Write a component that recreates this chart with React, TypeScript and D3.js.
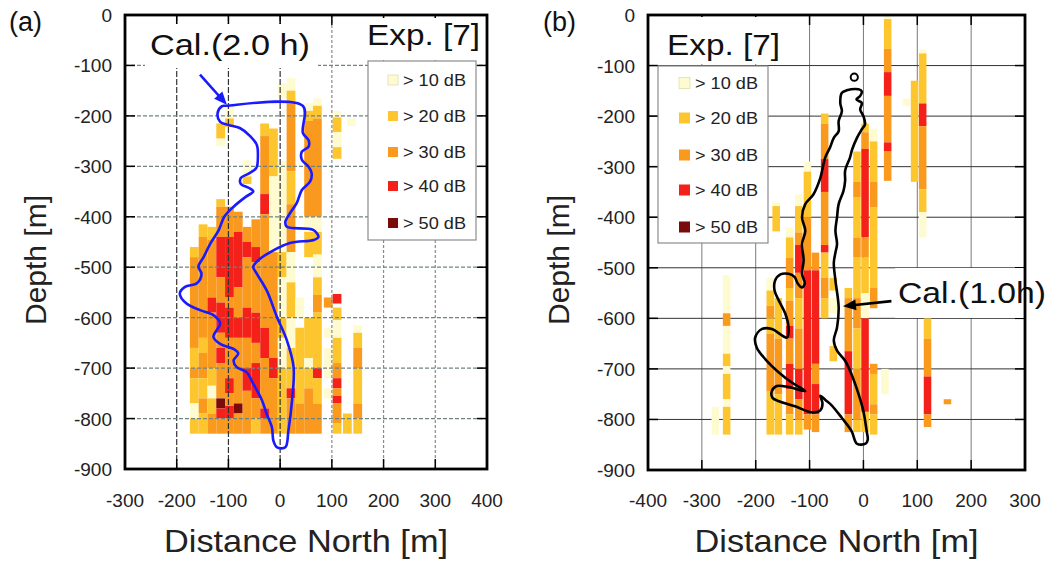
import React from 'react';
import * as d3 from 'd3';

// colour classes of the experiment map
const levelLabels = ['> 10 dB', '> 20 dB', '> 30 dB', '> 40 dB', '> 50 dB'];
const levelColors = ['#fffbd0', '#fdc62f', '#f99a1e', '#f3211a', '#7a0b0b'];

const depthTicks = d3.range(0, -901, -100);
const northTicksA = d3.range(-300, 401, 100);
const northTicksB = d3.range(-400, 301, 100);

// experiment columns: x = distance north [m], runs = [top depth, bottom depth, class 1..5]
const expA = [
  { x: -166, runs: [[-460, -480, 2], [-480, -660, 3], [-660, -700, 2], [-700, -720, 3], [-720, -770, 2], [-770, -800, 1], [-800, -830, 2]] },
  { x: -149, runs: [[-415, -440, 2], [-440, -640, 3], [-640, -670, 2], [-670, -720, 3], [-720, -760, 2], [-760, -790, 3], [-790, -830, 2]] },
  { x: -132, runs: [[-420, -445, 2], [-445, -560, 3], [-560, -590, 4], [-590, -700, 3], [-700, -735, 2], [-735, -760, 1], [-760, -790, 2], [-790, -830, 3]] },
  { x: -115, runs: [[-215, -245, 2], [-245, -260, 1], [-365, -380, 2], [-380, -440, 3], [-440, -520, 4], [-520, -570, 3], [-570, -630, 4], [-630, -660, 3], [-660, -690, 4], [-690, -760, 3], [-760, -780, 5], [-780, -800, 4], [-800, -830, 3]] },
  { x: -98, runs: [[-175, -205, 1], [-205, -222, 2], [-380, -440, 3], [-440, -560, 4], [-560, -580, 3], [-580, -640, 4], [-640, -720, 3], [-720, -750, 4], [-750, -775, 3], [-775, -800, 4], [-800, -830, 3]] },
  { x: -81, runs: [[-390, -430, 3], [-430, -540, 4], [-540, -600, 3], [-600, -640, 4], [-640, -770, 3], [-770, -790, 5], [-790, -830, 3]] },
  { x: -64, runs: [[-288, -320, 1], [-320, -335, 2], [-420, -450, 3], [-450, -480, 4], [-480, -580, 3], [-580, -640, 4], [-640, -700, 3], [-700, -745, 4], [-745, -830, 3]] },
  { x: -47, runs: [[-405, -460, 3], [-460, -490, 4], [-490, -590, 3], [-590, -650, 4], [-650, -690, 3], [-690, -760, 4], [-760, -800, 3], [-800, -830, 2]] },
  { x: -30, runs: [[-215, -240, 2], [-240, -355, 3], [-355, -395, 4], [-395, -620, 3], [-620, -680, 4], [-680, -780, 3], [-780, -800, 4], [-800, -830, 3]] },
  { x: -13, runs: [[-225, -320, 2], [-320, -470, 1], [-470, -680, 3], [-680, -720, 4], [-720, -830, 3]] },
  { x: 4, runs: [[-135, -165, 1], [-290, -470, 1], [-470, -520, 2], [-520, -600, 1], [-600, -640, 2], [-640, -700, 1], [-700, -830, 2]] },
  { x: 21, runs: [[-125, -150, 1], [-150, -175, 2], [-175, -310, 3], [-310, -375, 2], [-375, -470, 3], [-470, -530, 1], [-530, -600, 2], [-600, -660, 1], [-660, -740, 2], [-740, -760, 4], [-760, -830, 3]] },
  { x: 38, runs: [[-560, -600, 1], [-620, -770, 2], [-770, -830, 3]] },
  { x: 55, runs: [[-175, -190, 1], [-190, -210, 2], [-210, -400, 3], [-400, -430, 1], [-430, -480, 2], [-600, -680, 2], [-680, -700, 1], [-700, -740, 2], [-740, -830, 3]] },
  { x: 72, runs: [[-165, -180, 1], [-180, -205, 2], [-205, -400, 3], [-400, -430, 1], [-430, -475, 2], [-475, -520, 1], [-520, -555, 2], [-555, -590, 3], [-590, -700, 2], [-700, -720, 4], [-720, -770, 2], [-770, -830, 3]] },
  { x: 93, runs: [[-560, -580, 3], [-620, -640, 1], [-660, -720, 1], [-740, -760, 1]] },
  { x: 110, runs: [[-190, -203, 1], [-203, -232, 2], [-232, -262, 1], [-262, -285, 2], [-553, -572, 4], [-580, -605, 2], [-605, -640, 1], [-640, -690, 2], [-690, -720, 3], [-720, -740, 4], [-740, -755, 3], [-755, -770, 4], [-770, -810, 3], [-810, -830, 2]] },
  { x: 130, runs: [[-790, -830, 2]] },
  { x: 138, runs: [[-205, -220, 1]] },
  { x: 150, runs: [[-615, -630, 1], [-630, -660, 2], [-660, -700, 3], [-700, -770, 2], [-770, -800, 3], [-800, -830, 2]] },
];

const expB = [
  { x: -275, runs: [[-775, -830, 1]] },
  { x: -254, runs: [[-515, -590, 1], [-590, -615, 3], [-615, -670, 1], [-670, -695, 2], [-695, -710, 1], [-710, -760, 2], [-760, -775, 1], [-775, -830, 2]] },
  { x: -173, runs: [[-520, -545, 1], [-545, -575, 2], [-575, -600, 3], [-600, -630, 2], [-630, -745, 3], [-745, -830, 2]] },
  { x: -162, runs: [[-370, -378, 1], [-378, -428, 2]] },
  { x: -158, runs: [[-560, -640, 2], [-640, -750, 3], [-750, -830, 2]] },
  { x: -137, runs: [[-420, -440, 1], [-440, -480, 2], [-480, -540, 3], [-540, -565, 2], [-565, -615, 3], [-615, -640, 4], [-640, -690, 3], [-690, -740, 4], [-740, -790, 3], [-790, -830, 2]] },
  { x: -120, runs: [[-355, -378, 1], [-378, -430, 2], [-430, -455, 3], [-455, -510, 4], [-510, -560, 3], [-560, -620, 2], [-620, -700, 3], [-700, -760, 4], [-760, -800, 3], [-800, -830, 2]] },
  { x: -104, runs: [[-290, -310, 1], [-310, -400, 2], [-400, -505, 3], [-505, -790, 4], [-790, -820, 3]] },
  { x: -89, runs: [[-470, -505, 3], [-505, -690, 4], [-690, -730, 3], [-730, -790, 4], [-790, -825, 3]] },
  { x: -72, runs: [[-195, -215, 2], [-215, -285, 3], [-285, -350, 4], [-350, -455, 3], [-455, -470, 4], [-470, -520, 2], [-520, -560, 3], [-560, -600, 2]] },
  { x: -56, runs: [[-520, -545, 2], [-560, -590, 1], [-655, -685, 2]] },
  { x: -28, runs: [[-540, -560, 2], [-560, -665, 3], [-665, -790, 4], [-790, -825, 3]] },
  { x: -12, runs: [[-270, -330, 2], [-330, -360, 3], [-360, -440, 2], [-440, -480, 3], [-480, -560, 2], [-560, -620, 3], [-620, -700, 2], [-700, -800, 3], [-800, -825, 2]] },
  { x: 3, runs: [[-215, -232, 2], [-232, -265, 3], [-265, -440, 4], [-440, -480, 3], [-480, -550, 2], [-550, -600, 1], [-600, -785, 4], [-785, -825, 2]] },
  { x: 19, runs: [[-225, -250, 1], [-250, -330, 2], [-330, -380, 3], [-380, -540, 2], [-540, -580, 3], [-690, -710, 3], [-710, -770, 2], [-770, -790, 3], [-790, -830, 2]] },
  { x: 40, runs: [[-700, -750, 1]] },
  { x: 45, runs: [[-2, -8, 1], [-8, -67, 2], [-67, -113, 3], [-113, -160, 4], [-160, -252, 3], [-252, -269, 4], [-269, -328, 3]] },
  { x: 80, runs: [[-165, -180, 1]] },
  { x: 95, runs: [[-130, -330, 2]] },
  { x: 110, runs: [[-68, -76, 1], [-76, -175, 2], [-175, -220, 4], [-220, -345, 3], [-345, -390, 2], [-390, -440, 1]] },
  { x: 119, runs: [[-600, -640, 2], [-640, -715, 3], [-715, -790, 4], [-790, -815, 3]] },
  { x: 156, runs: [[-760, -770, 3]] },
];

// calculated outlines [north, depth]
const calA = [
  [-104, -180], [44, -180], [44, -234], [55, -248], [55, -261], [42, -271], [42, -287], [55, -301], [61, -314],
  [58, -330], [42, -347], [32, -373], [19, -393], [10, -410], [13, -420], [64, -426], [74, -440], [65, -446],
  [19, -452], [-19, -470], [-42, -486], [-52, -499], [-45, -513], [-26, -546], [-6, -599], [13, -645], [26, -698],
  [23, -764], [16, -824], [10, -857], [-6, -857], [-13, -844], [-16, -817], [-26, -791], [-35, -764], [-52, -731],
  [-65, -708], [-84, -698], [-90, -685], [-81, -671], [-90, -662], [-116, -652], [-129, -638], [-123, -625],
  [-116, -612], [-129, -595], [-155, -585], [-181, -572], [-194, -552], [-184, -539], [-161, -532], [-152, -513],
  [-158, -499], [-148, -480], [-135, -453], [-119, -427], [-108, -400], [-90, -380], [-66, -360], [-52, -350],
  [-60, -343], [-76, -335], [-76, -323], [-60, -314], [-46, -303], [-43, -280], [-45, -258], [-58, -240],
  [-78, -224], [-100, -218], [-116, -212], [-121, -195], [-113, -181],
];

const calB = [
  [-40, -154], [-31, -149], [-9, -147], [-3, -151], [-6, -160], [-13, -167], [-3, -174], [-6, -187], [0, -200],
  [3, -216], [-3, -226], [-12, -243], [-21, -266], [-25, -282], [-34, -308], [-34, -328], [-37, -348], [-46, -374],
  [-49, -400], [-52, -427], [-49, -453], [-52, -470], [-55, -490], [-52, -525], [-46, -578], [-49, -618],
  [-55, -644], [-49, -664], [-34, -684], [-22, -711], [-9, -750], [0, -784], [6, -823], [8, -840], [4, -848],
  [-12, -848], [-22, -823], [-40, -797], [-59, -772], [-70, -762], [-80, -753], [-76, -768], [-80, -782],
  [-95, -786], [-127, -774], [-157, -764], [-169, -757], [-170, -744], [-161, -734], [-139, -736], [-108, -744],
  [-133, -727], [-157, -707], [-182, -681], [-198, -658], [-201, -638], [-188, -621], [-170, -621], [-142, -638],
  [-139, -618], [-145, -591], [-157, -565], [-165, -545], [-164, -525], [-154, -513], [-139, -512], [-128, -518],
  [-122, -531], [-114, -539], [-109, -531], [-114, -512], [-111, -485], [-114, -453], [-108, -427], [-114, -400],
  [-108, -374], [-93, -355], [-80, -322], [-71, -282], [-62, -262], [-55, -243], [-46, -230], [-46, -210],
  [-40, -190], [-43, -174],
];
const smallRingB = [-17, -123];

const FONT = '"Liberation Sans", Arial, Helvetica, sans-serif';

function arrowHead(x1, y1, x2, y2, len, half) {
  const a = Math.atan2(y2 - y1, x2 - x1);
  const bx = x2 - len * Math.cos(a);
  const by = y2 - len * Math.sin(a);
  return `${x2},${y2} ${bx + half * Math.sin(a)},${by - half * Math.cos(a)} ${bx - half * Math.sin(a)},${by + half * Math.cos(a)}`;
}

function Panel({ cfg }) {
  const x = d3.scaleLinear().domain(cfg.xDomain).range(cfg.xRange);
  const y = d3.scaleLinear().domain([0, -900]).range(cfg.yRange);
  const [x0, x1] = cfg.xRange;
  const [y0, y1] = cfg.yRange;
  const line = d3.line().x(d => x(d[0])).y(d => y(d[1])).curve(d3.curveCatmullRomClosed.alpha(0.5));
  const w = cfg.cellWidth;

  const cells = cfg.data.flatMap((col, i) =>
    col.runs.map((r, j) => (
      <rect key={i + '-' + j} x={x(col.x - w / 2)} width={x(col.x + w / 2) - x(col.x - w / 2)}
        y={y(r[0])} height={y(r[1]) - y(r[0])} fill={levelColors[r[2] - 1]} />
    ))
  );

  const inner = cfg.xTicks.slice(1, -1);
  const innerY = depthTicks.slice(1, -1);
  const grid = (
    <g>
      {inner.map(t => (
        <line key={'gx' + t} x1={x(t)} x2={x(t)} y1={y0} y2={y1}
          stroke={cfg.dashed ? (t <= 0 ? '#333' : '#8a8a8a') : '#7a7a7a'}
          strokeWidth={cfg.dashed ? 1.2 : 1} strokeDasharray={cfg.dashed ? (t <= 0 ? '6,2' : '3,2') : null} />
      ))}
      {innerY.map(t => (
        <line key={'gy' + t} x1={x0} x2={x1} y1={y(t)} y2={y(t)}
          stroke={cfg.dashed ? '#6f8383' : '#333'} strokeWidth={cfg.dashed ? 1.2 : 1}
          strokeDasharray={cfg.dashed ? '4,2' : null} />
      ))}
    </g>
  );

  const ticks = (
    <g stroke="#000" strokeWidth={1.5}>
      {innerY.map(t => (
        <g key={'ty' + t}>
          <line x1={x0} x2={x0 + 10} y1={y(t)} y2={y(t)} />
          <line x1={x1 - 10} x2={x1} y1={y(t)} y2={y(t)} />
        </g>
      ))}
      {inner.map(t => (
        <g key={'tx' + t}>
          <line x1={x(t)} x2={x(t)} y1={y0} y2={y0 + 10} />
          <line x1={x(t)} x2={x(t)} y1={y1 - 10} y2={y1} />
        </g>
      ))}
    </g>
  );

  const lg = cfg.legend;
  const legend = (
    <g>
      <rect x={lg.x} y={lg.y} width={lg.w} height={lg.h} fill="#fff" stroke="#8c8c8c" strokeWidth={1.2} />
      {levelLabels.map((lab, i) => (
        <g key={lab}>
          <rect x={lg.sx} y={lg.rows[i] - lg.s / 2} width={lg.s} height={lg.s} fill={levelColors[i]}
            stroke={i === 0 ? '#e0ddb0' : 'none'} strokeWidth={0.8} />
          <text x={lg.tx} y={lg.rows[i] + 6} fontSize={17} fill="#222" textLength={63} lengthAdjust="spacingAndGlyphs">{lab}</text>
        </g>
      ))}
    </g>
  );

  const ar = cfg.arrow;
  const a1 = [x(ar.from[0]), y(ar.from[1])];
  const a2 = [x(ar.to[0]), y(ar.to[1])];

  return (
    <g fontFamily={FONT}>
      {!cfg.dashed && grid}
      {cells}
      {cfg.dashed && grid}
      <path d={line(cfg.curve)} fill="none" stroke={cfg.curveColor} strokeWidth={2.6} strokeLinejoin="round" />
      {cfg.ring && (
        <circle cx={x(cfg.ring[0])} cy={y(cfg.ring[1])} r={3.6} fill="none" stroke={cfg.curveColor} strokeWidth={2} />
      )}
      {ticks}
      {cfg.whites.map((r, i) => <rect key={'w' + i} x={r[0]} y={r[1]} width={r[2]} height={r[3]} fill="#fff" />)}
      <line x1={a1[0]} y1={a1[1]} x2={a2[0] - (a2[0] - a1[0]) * 0.15} y2={a2[1] - (a2[1] - a1[1]) * 0.15}
        stroke={cfg.curveColor} strokeWidth={2.6} />
      <polygon points={arrowHead(a1[0], a1[1], a2[0], a2[1], 13, 5.5)} fill={cfg.curveColor} />
      {cfg.texts.map((t, i) => (
        <text key={'t' + i} x={t.x} y={t.y} fontSize={t.size} fill="#111" textLength={t.len} lengthAdjust="spacingAndGlyphs">{t.s}</text>
      ))}
      {legend}
      <rect x={x0} y={y0} width={x1 - x0} height={y1 - y0} fill="none" stroke="#000" strokeWidth={2.8} />
      {cfg.xTicks.map(t => (
        <text key={'lx' + t} x={x(t)} y={507} fontSize={19} textAnchor="middle" fill="#222">{t}</text>
      ))}
      {depthTicks.map(t => (
        <text key={'ly' + t} x={x0 - 13} y={y(t) + 7} fontSize={19} textAnchor="end" fill="#222">{t}</text>
      ))}
      <text transform={`translate(${cfg.yLabelX},260) rotate(-90)`} fontSize={30} textAnchor="middle" fill="#222">Depth [m]</text>
      <text x={(x0 + x1) / 2} y={552} fontSize={32} textAnchor="middle" fill="#222" textLength={284} lengthAdjust="spacingAndGlyphs">Distance North [m]</text>
      <text x={cfg.tagX} y={31} fontSize={27} fill="#111">{cfg.tag}</text>
    </g>
  );
}

const panelA = {
  tag: '(a)', tagX: 9, yLabelX: 46,
  xDomain: [-300, 400], xRange: [125, 487], yRange: [15, 469], xTicks: northTicksA,
  data: expA, cellWidth: 17, dashed: true,
  curve: calA, curveColor: '#1a1aff', ring: null,
  arrow: { from: [-155, -118], to: [-103, -178] },
  whites: [[145, 24, 173, 44], [362, 18, 122, 40]],
  texts: [
    { s: 'Cal.(2.0 h)', x: 150, y: 55, size: 30, len: 160 },
    { s: 'Exp. [7]', x: 367, y: 45, size: 30, len: 113 },
  ],
  legend: { x: 368, y: 61, w: 108, h: 179, sx: 388, s: 10, tx: 403, rows: [80, 116, 152, 186, 223] },
};

const panelB = {
  tag: '(b)', tagX: 543, yLabelX: 569,
  xDomain: [-400, 300], xRange: [648, 1025], yRange: [15, 470], xTicks: northTicksB,
  data: expB, cellWidth: 14, dashed: false,
  curve: calB, curveColor: '#000', ring: smallRingB,
  arrow: { from: [52, -566], to: [-38, -576] },
  whites: [[650, 17, 138, 47], [895, 268, 155, 50]],
  texts: [
    { s: 'Exp. [7]', x: 667, y: 55, size: 30, len: 113 },
    { s: 'Cal.(1.0h)', x: 898, y: 303, size: 30, len: 148 },
  ],
  legend: { x: 658, y: 66, w: 110, h: 177, sx: 679, s: 11, tx: 695, rows: [83, 118, 155, 190, 227] },
};

export default function App() {
  return (
    <svg width={1050} height={563} style={{ position: 'absolute', left: 0, top: 0, background: '#fff' }}>
      <rect width={1050} height={563} fill="#fff" />
      <Panel cfg={panelA} />
      <Panel cfg={panelB} />
    </svg>
  );
}
